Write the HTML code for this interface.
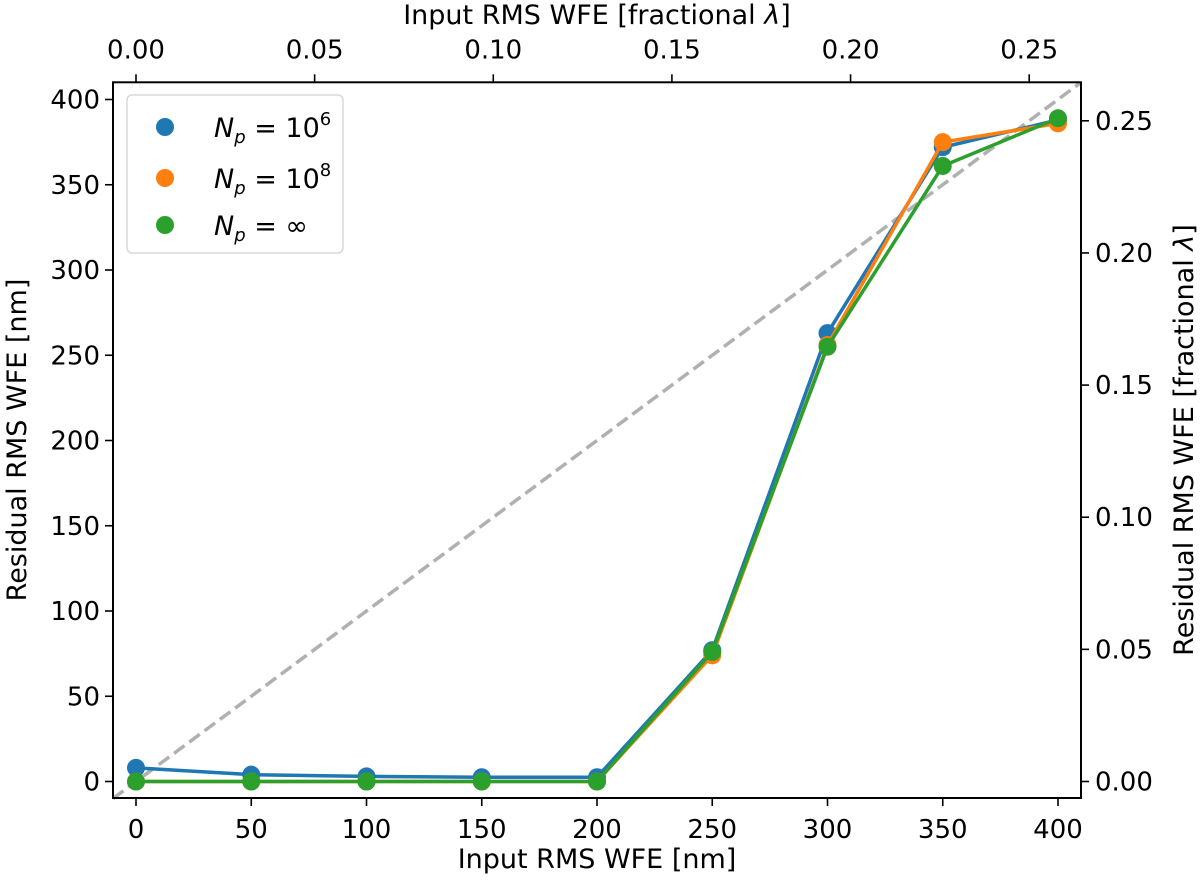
<!DOCTYPE html>
<html><head><meta charset="utf-8"><style>
body{margin:0;background:#fff}
svg text{font-family:"DejaVu Sans","Liberation Sans",sans-serif;fill:#000}
</style></head><body>
<svg id="chart" width="1200" height="883" xmlns="http://www.w3.org/2000/svg">
</svg>
<script>
const categories=[0,50,100,150,200,250,300,350,400];
const seriesN6=[8,4,3,2.5,2.5,77,263,372,388];
const seriesN8=[0,0,0,0,0,74,256,375,386];
const seriesInf=[0,0,0,0,0,76,255,361,389];
const xTicks=[0,50,100,150,200,250,300,350,400];
const yTicks=[0,50,100,150,200,250,300,350,400];
const topTicks=["0.00","0.05","0.10","0.15","0.20","0.25"];
const rightTicks=["0.00","0.05","0.10","0.15","0.20","0.25"];
const lambdaTop=1550, lambdaRight=1550;

const L=113,R=1081,T=82.3,B=798;
const x=v=>136+(v)*2.305;
const y=v=>781.5-(v)*1.705;
const svg=document.getElementById('chart');
const NS='http://www.w3.org/2000/svg';
function mk(tag,attrs,parent){const e=document.createElementNS(NS,tag);for(const k in attrs)e.setAttribute(k,attrs[k]);(parent||svg).appendChild(e);return e;}

const diag=mk('line',{x1:x(-10),y1:y(-10),x2:x(410),y2:y(410),stroke:'#b0b0b0','stroke-width':3.5,'stroke-dasharray':'13,6'});



const series=[[seriesN6,'#1f77b4','series-n6'],[seriesN8,'#ff7f0e','series-n8'],[seriesInf,'#2ca02c','series-inf']];
series.forEach(([d,c,n])=>{
  const pl=mk('polyline',{points:d.map((v,i)=>x(categories[i])+','+y(v)).join(' '),fill:'none',stroke:c,'stroke-width':3.5,'stroke-linejoin':'round'});
  
  
  d.forEach((v,i)=>{
    const p=mk('circle',{cx:x(categories[i]),cy:y(v),r:9,fill:c});
    
    
  });
});

const fr=mk('rect',{x:L,y:T,width:R-L,height:B-T,fill:'none',stroke:'#000','stroke-width':2});



const FS=26;
xTicks.forEach(v=>{
  mk('line',{x1:x(v),y1:B,x2:x(v),y2:B+8,stroke:'#000','stroke-width':1.6});
  const t=mk('text',{x:x(v),y:B+40,'font-size':FS,'text-anchor':'middle'});t.textContent=v;
  
  
});
yTicks.forEach(v=>{
  mk('line',{x1:L-8,y1:y(v),x2:L,y2:y(v),stroke:'#000','stroke-width':1.6});
  const t=mk('text',{x:L-13,y:y(v)+9,'font-size':FS,'text-anchor':'end'});t.textContent=v;
  
  
});
topTicks.forEach(s=>{
  const px=x(parseFloat(s)*lambdaTop);
  mk('line',{x1:px,y1:T-8,x2:px,y2:T,stroke:'#000','stroke-width':1.6});
  const t=mk('text',{x:px,y:T-24,'font-size':FS,'text-anchor':'middle'});t.textContent=s;
  
  
});
rightTicks.forEach(s=>{
  const py=y(parseFloat(s)*lambdaRight);
  mk('line',{x1:R,y1:py,x2:R+8,y2:py,stroke:'#000','stroke-width':1.6});
  const t=mk('text',{x:R+14,y:py+9,'font-size':FS,'text-anchor':'start'});t.textContent=s;
  
  
});
</script>
<svg style="position:absolute;left:0;top:0" width="1200" height="883" xmlns="http://www.w3.org/2000/svg">
<text x="597" y="868" font-size="27" text-anchor="middle">Input RMS WFE [nm]</text>
<text x="597" y="24" font-size="27" text-anchor="middle">Input RMS WFE [fractional <tspan font-style="italic">λ</tspan>]</text>
<text transform="translate(26,440) rotate(-90)" font-size="27" text-anchor="middle">Residual RMS WFE [nm]</text>
<text transform="translate(1193,440) rotate(-90)" font-size="27" text-anchor="middle">Residual RMS WFE [fractional <tspan font-style="italic">λ</tspan>]</text>
<g>
<rect x="127" y="95" width="216" height="158" rx="5" fill="#fff" fill-opacity="0.8" stroke="#d8d8d8" stroke-width="1.5"/>
<circle cx="165" cy="127" r="9" fill="#1f77b4"/>
<circle cx="165" cy="178" r="9" fill="#ff7f0e"/>
<circle cx="165" cy="225" r="9" fill="#2ca02c"/>
<text x="214" y="137" font-size="27"><tspan font-style="italic">N</tspan><tspan font-style="italic" font-size="18" dy="6">p</tspan><tspan dy="-6"> = 10</tspan><tspan font-size="18" dy="-12">6</tspan></text>
<text x="214" y="188" font-size="27"><tspan font-style="italic">N</tspan><tspan font-style="italic" font-size="18" dy="6">p</tspan><tspan dy="-6"> = 10</tspan><tspan font-size="18" dy="-12">8</tspan></text>
<text x="214" y="235" font-size="27"><tspan font-style="italic">N</tspan><tspan font-style="italic" font-size="18" dy="6">p</tspan><tspan dy="-6"> = ∞</tspan></text>
</g>
</svg>
</body></html>
